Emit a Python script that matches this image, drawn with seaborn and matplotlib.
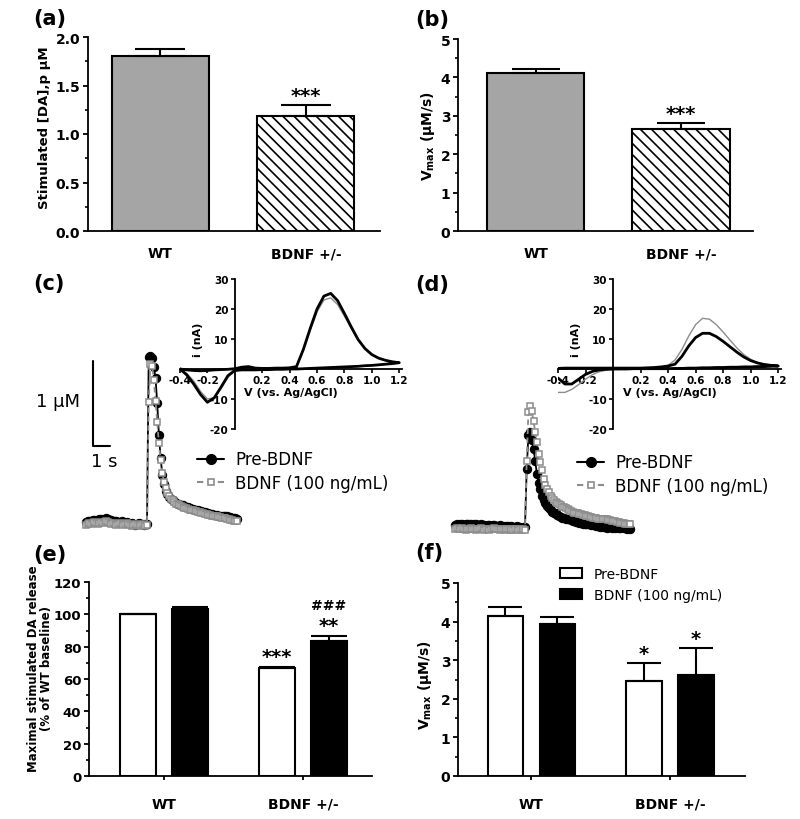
import matplotlib
matplotlib.use("Agg")
import matplotlib.pyplot as plt
import numpy as np
import pandas as pd
import seaborn as sns
from matplotlib.lines import Line2D
from matplotlib.patches import Patch
from matplotlib.ticker import MultipleLocator, FormatStrFormatter

# ---------------- data ----------------
genotypes = ["WT", "BDNF +/-"]
conditions = ["Pre-BDNF", "BDNF (100 ng/mL)"]

# (a) stimulated [DA]
da_release = [1.80, 1.19]
da_release_err = [0.08, 0.11]
# (b) Vmax
vmax_base = [4.12, 2.65]
vmax_base_err = [0.09, 0.15]
# (e) % of WT baseline
pct_pre = [100.0, 66.5]
pct_pre_err = [0.3, 0.8]
pct_bdnf = [103.0, 83.5]
pct_bdnf_err = [1.5, 3.4]
# (f) Vmax pre / post BDNF
vmax_pre = [4.15, 2.45]
vmax_pre_err = [0.23, 0.48]
vmax_bdnf = [3.93, 2.62]
vmax_bdnf_err = [0.20, 0.70]

# (c) WT release traces (uM), 0.1 s sampling; pre = up to stimulation, post = after
c_pre_black = [0.02, 0.03, 0.04, 0.04, 0.05, 0.05, 0.04, 0.05, 0.06, 0.06,
               0.05, 0.06, 0.07, 0.06, 0.05, 0.05, 0.04, 0.03, 0.03, 0.02,
               0.02, 0.03, 0.02, 0.01, 0.02, 0.01, 0.00, 0.01, 0.00, -0.01,
               0.00, 0.01, 0.00, 0.00, -0.01, 0.00, 0.00]
c_post_black = [1.96, 1.98, 1.95, 1.85, 1.72, 1.42, 1.05, 0.78, 0.58, 0.47,
                0.39, 0.35, 0.32, 0.30, 0.28, 0.27, 0.25, 0.24, 0.23, 0.22,
                0.22, 0.21, 0.20, 0.20, 0.19, 0.18, 0.18, 0.17, 0.16, 0.16,
                0.15, 0.15, 0.14, 0.14, 0.13, 0.13, 0.12, 0.12, 0.11, 0.11,
                0.11, 0.10, 0.10, 0.10, 0.09, 0.09, 0.09, 0.08, 0.08, 0.07,
                0.07, 0.07, 0.06]
c_pre_gray = [-0.01, 0.00, 0.01, 0.00, 0.01, 0.02, 0.01, 0.00, 0.01, 0.02,
              0.01, 0.02, 0.03, 0.02, 0.01, 0.00, 0.01, 0.00, -0.01, 0.00,
              0.01, 0.00, -0.01, 0.00, 0.01, 0.00, -0.01, -0.02, -0.01, 0.00,
              -0.01, -0.02, -0.01, 0.00, -0.01, -0.02, -0.01]
c_post_gray = [1.43, 1.88, 1.86, 1.70, 1.45, 1.20, 0.95, 0.75, 0.60, 0.50,
               0.42, 0.37, 0.33, 0.30, 0.28, 0.26, 0.24, 0.23, 0.22, 0.21,
               0.20, 0.19, 0.19, 0.18, 0.17, 0.17, 0.16, 0.15, 0.15, 0.14,
               0.14, 0.13, 0.13, 0.12, 0.12, 0.11, 0.11, 0.10, 0.10, 0.09,
               0.09, 0.08, 0.08, 0.07, 0.07, 0.07, 0.06, 0.06, 0.05, 0.05,
               0.04, 0.04, 0.03]

# (d) BDNF +/- release traces (uM)
d_pre_black = [0.02, 0.03, 0.02, 0.03, 0.03, 0.02, 0.03, 0.04, 0.03, 0.03,
               0.02, 0.03, 0.03, 0.02, 0.02, 0.03, 0.02, 0.02, 0.01, 0.02,
               0.02, 0.01, 0.02, 0.02, 0.01, 0.01, 0.02, 0.01, 0.01, 0.00,
               0.01, 0.01, 0.00, 0.01, 0.00, 0.00, 0.01, 0.00, 0.00, -0.01,
               0.00, 0.00]
d_post_black = [0.68, 1.08, 1.12, 1.02, 0.92, 0.78, 0.62, 0.52, 0.45, 0.37,
                0.32, 0.28, 0.25, 0.22, 0.20, 0.18, 0.17, 0.16, 0.14, 0.13,
                0.12, 0.11, 0.11, 0.10, 0.09, 0.09, 0.08, 0.07, 0.07, 0.06,
                0.06, 0.05, 0.05, 0.04, 0.04, 0.03, 0.03, 0.03, 0.02, 0.02,
                0.02, 0.01, 0.01, 0.00, 0.01, 0.00, 0.00, -0.01, 0.00, 0.00,
                -0.01, 0.00, -0.01, 0.00, -0.01, -0.01, 0.00, -0.01, -0.01, -0.02,
                -0.01, -0.02]
d_pre_gray = [-0.02, -0.01, -0.02, -0.02, -0.01, -0.02, -0.03, -0.02, -0.02, -0.01,
              -0.02, -0.02, -0.03, -0.02, -0.02, -0.01, -0.02, -0.03, -0.02, -0.02,
              -0.03, -0.02, -0.02, -0.01, -0.02, -0.02, -0.03, -0.02, -0.02, -0.03,
              -0.02, -0.02, -0.03, -0.02, -0.03, -0.02, -0.02, -0.03, -0.02, -0.03,
              -0.02, -0.03]
d_post_gray = [0.78, 1.35, 1.42, 1.36, 1.25, 1.12, 1.00, 0.86, 0.76, 0.67,
               0.56, 0.50, 0.45, 0.41, 0.37, 0.34, 0.32, 0.30, 0.28, 0.27,
               0.26, 0.24, 0.23, 0.22, 0.21, 0.20, 0.19, 0.18, 0.17, 0.17,
               0.16, 0.15, 0.15, 0.14, 0.14, 0.13, 0.13, 0.12, 0.12, 0.11,
               0.11, 0.11, 0.10, 0.10, 0.10, 0.09, 0.09, 0.09, 0.08, 0.08,
               0.07, 0.07, 0.07, 0.06, 0.06, 0.05, 0.05, 0.05, 0.04, 0.04,
               0.04, 0.03]

# cyclic voltammograms (nA): forward sweep -0.4 -> 1.2 V, reverse 1.15 -> -0.4 V, 0.05 V steps
cv_fwd_v = [-0.40, -0.35, -0.30, -0.25, -0.20, -0.15, -0.10, -0.05, 0.00, 0.05, 0.10,
            0.15, 0.20, 0.25, 0.30, 0.35, 0.40, 0.45, 0.50, 0.55, 0.60, 0.65,
            0.70, 0.75, 0.80, 0.85, 0.90, 0.95, 1.00, 1.05, 1.10, 1.15, 1.20]
cv_rev_v = [1.15, 1.10, 1.05, 1.00, 0.95, 0.90, 0.85, 0.80, 0.75, 0.70, 0.65,
            0.60, 0.55, 0.50, 0.45, 0.40, 0.35, 0.30, 0.25, 0.20, 0.15, 0.10,
            0.05, 0.00, -0.05, -0.10, -0.15, -0.20, -0.25, -0.30, -0.35, -0.40]

c_cv_black_fwd = [0.0, -0.3, -0.5, -0.6, -0.5, -0.3, -0.2, -0.1, 0.1, 0.6, 0.8,
                  0.3, 0.2, 0.2, 0.3, 0.3, 0.4, 0.8, 6.5, 13.5, 20.0, 24.3,
                  25.2, 22.8, 18.5, 14.0, 9.8, 6.8, 4.8, 3.6, 2.9, 2.4, 2.1]
c_cv_black_rev = [1.8, 1.6, 1.4, 1.2, 1.1, 0.9, 0.8, 0.7, 0.6, 0.5, 0.4,
                  0.3, 0.2, 0.1, 0.0, 0.0, -0.1, -0.1, -0.2, -0.2, -0.3, -0.3,
                  -0.3, -0.5, -2.2, -6.0, -9.6, -11.1, -8.5, -5.0, -2.0, 0.0]
c_cv_gray_fwd = [0.0, -0.2, -0.4, -0.5, -0.4, -0.3, -0.2, -0.1, 0.1, 0.4, 0.5,
                 0.3, 0.2, 0.2, 0.2, 0.3, 0.4, 0.8, 6.2, 12.8, 19.0, 23.0,
                 23.7, 21.5, 17.6, 13.5, 9.6, 6.8, 4.9, 3.7, 2.9, 2.4, 2.1]
c_cv_gray_rev = [1.8, 1.6, 1.4, 1.2, 1.1, 0.9, 0.8, 0.7, 0.6, 0.5, 0.4,
                 0.3, 0.2, 0.1, 0.0, 0.0, -0.1, -0.1, -0.2, -0.2, -0.3, -0.3,
                 -0.4, -0.6, -2.8, -6.5, -9.6, -10.0, -7.5, -4.0, -1.5, 0.0]

d_cv_black_fwd = [0.2, 0.3, 0.3, 0.3, 0.3, 0.3, 0.3, 0.3, 0.3, 0.3, 0.3,
                  0.3, 0.3, 0.4, 0.5, 0.7, 1.0, 1.6, 4.2, 7.7, 10.5, 11.9,
                  11.9, 10.8, 9.2, 7.4, 5.6, 4.0, 2.8, 2.0, 1.5, 1.2, 1.0]
d_cv_black_rev = [0.9, 0.8, 0.8, 0.7, 0.7, 0.6, 0.6, 0.5, 0.5, 0.4, 0.4,
                  0.3, 0.3, 0.2, 0.2, 0.1, 0.1, 0.1, 0.1, 0.1, 0.1, 0.0,
                  0.0, 0.0, -0.1, -0.3, -0.8, -1.8, -3.4, -5.0, -5.0, -3.0]
d_cv_gray_fwd = [0.1, 0.1, 0.2, 0.2, 0.2, 0.1, 0.1, 0.1, 0.1, 0.2, 0.2,
                 0.2, 0.2, 0.3, 0.4, 0.6, 1.2, 3.0, 6.5, 11.0, 14.8, 16.9,
                 16.6, 14.8, 12.3, 9.6, 7.0, 4.8, 3.2, 2.2, 1.6, 1.3, 1.1]
d_cv_gray_rev = [1.0, 0.9, 0.9, 0.8, 0.8, 0.7, 0.7, 0.6, 0.6, 0.5, 0.5,
                 0.4, 0.4, 0.3, 0.3, 0.2, 0.2, 0.1, 0.1, 0.1, 0.0, 0.0,
                 -0.1, -0.2, -0.4, -0.9, -1.9, -3.4, -5.2, -6.8, -7.8, -7.8]

# ---------------- style ----------------
sns.set_style("ticks")
plt.rcParams["font.family"] = ["DejaVu Sans"]
plt.rcParams["font.weight"] = "bold"
plt.rcParams["axes.labelweight"] = "bold"
plt.rcParams["axes.unicode_minus"] = False
plt.rcParams["mathtext.default"] = "bf"
plt.rcParams["hatch.linewidth"] = 1.2
for key in ("text.color", "axes.labelcolor", "xtick.color", "ytick.color", "axes.edgecolor"):
    plt.rcParams[key] = "black"

W, H = 800, 820
fig = plt.figure(figsize=(8, 8.2), dpi=100)


def px_axes(x0, y0, x1, y1):
    # axes box given in picture pixels (top-left origin)
    return fig.add_axes([x0 / W, 1 - y1 / H, (x1 - x0) / W, (y1 - y0) / H])


def bar_axis(ax, ymax, major, minor, fmt, xlim, xtick_len, xpad, ysize=10):
    ax.set_xlim(*xlim)
    ax.set_ylim(0, ymax)
    ax.yaxis.set_major_locator(MultipleLocator(major))
    ax.yaxis.set_minor_locator(MultipleLocator(minor))
    ax.yaxis.set_major_formatter(FormatStrFormatter(fmt))
    ax.tick_params(axis="y", which="major", length=3.5, width=1.3, pad=2, labelsize=ysize)
    ax.tick_params(axis="y", which="minor", length=2, width=1.2)
    ax.tick_params(axis="x", length=xtick_len, width=1.3, pad=xpad, labelsize=10)
    ax.set_xlabel("")
    sns.despine(ax=ax)
    for s in ("left", "bottom"):
        ax.spines[s].set_linewidth(1.3)


def add_errors(ax, bars, errs, capsize):
    for bar, err in zip(bars, errs):
        x = bar.get_x() + bar.get_width() / 2
        ax.errorbar(x, bar.get_height(), yerr=[[0], [err]], fmt="none", ecolor="black",
                    elinewidth=1.5, capsize=capsize, capthick=1.5, zorder=1)


def mark(ax, bar, err, text, gap, size):
    x = bar.get_x() + bar.get_width() / 2
    ax.annotate(text, (x, bar.get_height() + err), xytext=(0, gap), textcoords="offset points",
                ha="center", va="baseline", fontsize=size, fontweight="bold")


# ---------------- (a) ----------------
ax_a = px_axes(88, 38, 380, 232)
df_a = pd.DataFrame({"genotype": genotypes, "value": da_release})
sns.barplot(data=df_a, x="genotype", y="value", hue="genotype", palette=["#a5a5a5", "white"],
            saturation=1, width=0.667, edgecolor="black", linewidth=1.5, legend=False, ax=ax_a)
ax_a.patches[1].set_hatch("\\\\\\")
add_errors(ax_a, ax_a.patches, da_release_err, 18)
mark(ax_a, ax_a.patches[1], da_release_err[1], "***", 3, 14)
bar_axis(ax_a, 2.0, 0.5, 0.25, "%.1f", (-0.498, 1.509), 0, 11)
ax_a.set_ylabel("Stimulated [DA],p μM", fontsize=9.5)
ax_a.yaxis.set_label_coords(-0.127, 0.536)

# ---------------- (b) ----------------
ax_b = px_axes(458, 40, 753, 232)
df_b = pd.DataFrame({"genotype": genotypes, "value": vmax_base})
sns.barplot(data=df_b, x="genotype", y="value", hue="genotype", palette=["#a5a5a5", "white"],
            saturation=1, width=0.667, edgecolor="black", linewidth=1.5, legend=False, ax=ax_b)
ax_b.patches[1].set_hatch("\\\\\\")
add_errors(ax_b, ax_b.patches, vmax_base_err, 17)
mark(ax_b, ax_b.patches[1], vmax_base_err[1], "***", 3, 14)
bar_axis(ax_b, 5, 1, 0.5, "%d", (-0.533, 1.495), 0, 11)
ax_b.set_ylabel(r"$V_{max}$ (μM/s)", fontsize=10)
ax_b.yaxis.set_label_coords(-0.071, 0.5)

# ---------------- (c), (d) traces + CV insets ----------------
black_kw = dict(color="black", marker="o", markersize=6, markeredgecolor="black",
                linewidth=1.3, estimator=None, sort=False)
gray_kw = dict(color="#8c8c8c", marker="s", markersize=4, markerfacecolor="white",
               markeredgecolor="#8c8c8c", markeredgewidth=1.1, linewidth=1.3,
               linestyle=(0, (3, 2)), estimator=None, sort=False)


def trace_time(pre, post):
    return np.round((np.arange(len(pre) + len(post)) - (len(pre) - 1)) * 0.1, 1)


def draw_trace(ax, pre_b, post_b, pre_g, post_g):
    sns.lineplot(x=trace_time(pre_b, post_b), y=pre_b + post_b, ax=ax, **black_kw)
    sns.lineplot(x=trace_time(pre_g, post_g), y=pre_g + post_g, ax=ax, **gray_kw)
    ax.axis("off")


def draw_cv(ax, bf, br, gf, gr):
    v = cv_fwd_v + cv_rev_v
    ax.set_facecolor("none")
    sns.lineplot(x=v, y=gf + gr, ax=ax, color="#8c8c8c", linewidth=1.0, estimator=None, sort=False)
    sns.lineplot(x=v, y=bf + br, ax=ax, color="black", linewidth=2.0, estimator=None, sort=False)
    ax.set_xlim(-0.4, 1.22)
    ax.set_ylim(-20, 30)
    ax.spines["left"].set_position(("data", 0))
    ax.spines["bottom"].set_position(("data", 0))
    ax.spines["top"].set_visible(False)
    ax.spines["right"].set_visible(False)
    for s in ("left", "bottom"):
        ax.spines[s].set_linewidth(1.3)
    ax.set_xticks([-0.4, -0.2, 0.2, 0.4, 0.6, 0.8, 1.0, 1.2])
    ax.xaxis.set_major_formatter(FormatStrFormatter("%.1f"))
    ax.set_yticks([-20, -10, 10, 20, 30])
    ax.tick_params(length=3, width=1.2, pad=1.5, labelsize=7.5)
    ax.set_xlabel("V (vs. Ag/AgCl)", fontsize=8, labelpad=1)
    ax.set_ylabel("i (nA)", fontsize=8)
    ax.yaxis.set_label_coords(0.105, 0.6)


ax_c = px_axes(60, 340, 250, 545)
draw_trace(ax_c, c_pre_black, c_post_black, c_pre_gray, c_post_gray)
ax_c.set_xlim(-87 / 17, 103 / 17)
ax_c.set_ylim(-20 / 85, 185 / 85)
# scale bar: 1 uM / 1 s
ax_c.plot([-3.18, -3.18, -2.18], [1.918, 0.918, 0.918], color="black", linewidth=1.5)
ax_c.text(-3.94, 1.45, "1 μM", ha="right", va="center", fontsize=13, fontweight="normal")
ax_c.text(-2.53, 0.74, "1 s", ha="center", va="center", fontsize=13, fontweight="normal")

ax_d = px_axes(440, 340, 640, 545)
draw_trace(ax_d, d_pre_black, d_post_black, d_pre_gray, d_post_gray)
ax_d.set_xlim(-85 / 17, 115 / 17)
ax_d.set_ylim(-17 / 85, 188 / 85)

ax_ci = px_axes(180, 280, 402, 430)
draw_cv(ax_ci, c_cv_black_fwd, c_cv_black_rev, c_cv_gray_fwd, c_cv_gray_rev)
ax_di = px_axes(558, 280, 781, 430)
draw_cv(ax_di, d_cv_black_fwd, d_cv_black_rev, d_cv_gray_fwd, d_cv_gray_rev)

trace_handles = [
    Line2D([], [], color="black", marker="o", markersize=7, linewidth=1.5),
    Line2D([], [], color="#8c8c8c", marker="s", markersize=5, markerfacecolor="white",
           markeredgewidth=1.2, linewidth=1.5, linestyle=(0, (3, 2))),
]
for x0, y0 in [(189, 443), (569, 446)]:
    fig.legend(trace_handles, conditions, loc="upper left", bbox_to_anchor=(x0 / W, 1 - y0 / H),
               frameon=False, borderpad=0, handlelength=1.6, handletextpad=0.66,
               labelspacing=0.34, prop={"size": 12, "weight": "normal"})

# ---------------- (e) ----------------
ax_e = px_axes(89, 583, 372, 777)
df_e = pd.DataFrame({"genotype": genotypes * 2,
                     "condition": [conditions[0]] * 2 + [conditions[1]] * 2,
                     "value": pct_pre + pct_bdnf})
sns.barplot(data=df_e, x="genotype", y="value", hue="condition", palette=["white", "black"],
            saturation=1, width=0.74, gap=0.3, edgecolor="black", linewidth=1.5,
            legend=False, ax=ax_e)
for cont, errs in zip(ax_e.containers, [pct_pre_err, pct_bdnf_err]):
    add_errors(ax_e, cont, errs, 13)
mark(ax_e, ax_e.containers[0][1], pct_pre_err[1], "***", 4, 14)
mark(ax_e, ax_e.containers[1][1], pct_bdnf_err[1], "**", 3, 14)
mark(ax_e, ax_e.containers[1][1], pct_bdnf_err[1], "###", 19, 10)
bar_axis(ax_e, 120, 20, 10, "%d", (-0.54, 1.496), 3, 12, ysize=9.5)
ax_e.set_ylabel("Maximal stimulated DA release\n(% of WT baseline)", fontsize=8.5, linespacing=1.0)
ax_e.yaxis.set_label_coords(-0.127, 0.559)

# ---------------- (f) ----------------
ax_f = px_axes(458, 584, 745, 777)
df_f = pd.DataFrame({"genotype": genotypes * 2,
                     "condition": [conditions[0]] * 2 + [conditions[1]] * 2,
                     "value": vmax_pre + vmax_bdnf})
sns.barplot(data=df_f, x="genotype", y="value", hue="condition", palette=["white", "black"],
            saturation=1, width=0.75, gap=0.31, edgecolor="black", linewidth=1.5,
            legend=False, ax=ax_f)
for cont, errs in zip(ax_f.containers, [vmax_pre_err, vmax_bdnf_err]):
    add_errors(ax_f, cont, errs, 12.5)
mark(ax_f, ax_f.containers[0][1], vmax_pre_err[1], "*", 3, 14)
mark(ax_f, ax_f.containers[1][1], vmax_bdnf_err[1], "*", 3, 14)
bar_axis(ax_f, 5, 1, 0.5, "%d", (-0.53, 1.54), 3, 12)
ax_f.set_ylabel(r"$V_{max}$ (μM/s)", fontsize=10)
ax_f.yaxis.set_label_coords(-0.084, 0.477)

bar_handles = [Patch(facecolor="white", edgecolor="black", linewidth=1.5),
               Patch(facecolor="black", edgecolor="black", linewidth=1.5)]
fig.legend(bar_handles, conditions, loc="upper left", bbox_to_anchor=(553 / W, 1 - 561 / H),
           frameon=False, borderpad=0, handlelength=1.58, handleheight=0.8, handletextpad=0.86,
           labelspacing=0.49, prop={"size": 10, "weight": "normal"})

# ---------------- panel letters ----------------
for letter, x, y in [("(a)", 33, 19), ("(b)", 415, 20), ("(c)", 33, 284),
                     ("(d)", 415, 285), ("(e)", 33, 555), ("(f)", 415, 553)]:
    fig.text(x / W, 1 - y / H, letter, ha="left", va="center", fontsize=15, fontweight="bold")

fig.savefig("out.png", dpi=100)
